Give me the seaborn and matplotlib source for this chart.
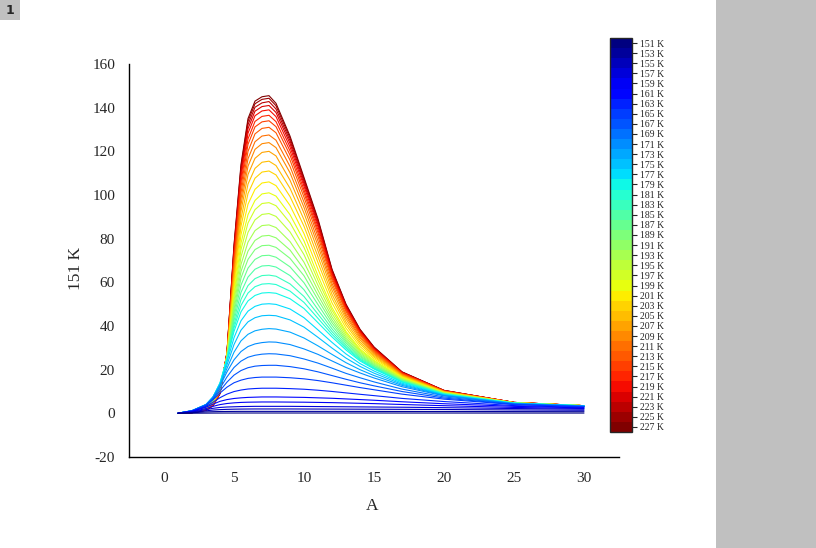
import numpy as np
import pandas as pd
import matplotlib
matplotlib.use("Agg")
import matplotlib.pyplot as plt
import seaborn as sns
from matplotlib.colors import ListedColormap, BoundaryNorm
from matplotlib.cm import ScalarMappable
from matplotlib.ticker import MultipleLocator

# ---- data ----
x_values = [1, 2, 3, 3.5, 4, 4.5, 5, 5.5, 6, 6.5, 7, 7.5, 8, 9, 10, 11, 12, 13, 14, 15, 17, 20, 25, 30]

temperatures = [227, 225, 223, 221, 219, 217, 215, 213, 211, 209, 207, 205, 203, 201, 199,
                197, 195, 193, 191, 189, 187, 185, 183, 181, 179, 177, 175, 173, 171,
                169, 167, 165, 163, 161, 159, 157, 155, 153, 151]

intensity = [
    [0, 0.3, 1.4, 3.5, 9, 28, 77, 114, 135, 143, 145, 145.5, 142, 127, 108, 89, 66, 50, 38.5, 30.4, 19, 10.5, 5.0, 3.5],
    [0, 0.3, 1.4, 3.6, 9.1, 27.9, 76.3, 112.9, 133.8, 141.8, 143.8, 144.3, 140.9, 126.1, 107.3, 88.3, 65.6, 49.7, 38.3, 30.2, 18.9, 10.5, 5.0, 3.5],
    [0, 0.32, 1.48, 3.63, 9.19, 27.8, 75.3, 111.5, 132.2, 140.2, 142.2, 142.8, 139.4, 124.9, 106.3, 87.5, 65.1, 49.3, 38, 30, 18.8, 10.4, 5.0, 3.5],
    [0, 0.33, 1.52, 3.72, 9.31, 27.7, 74.2, 110, 130.4, 138.4, 140.5, 141, 137.8, 123.6, 105.2, 86.5, 64.4, 48.9, 37.7, 29.8, 18.7, 10.4, 5.0, 3.5],
    [0, 0.35, 1.58, 3.82, 9.45, 27.5, 73, 108.2, 128.3, 136.3, 138.5, 139, 135.9, 122, 104, 85.4, 63.8, 48.4, 37.4, 29.5, 18.5, 10.3, 5.0, 3.5],
    [0, 0.36, 1.65, 3.93, 9.62, 27.4, 71.4, 106, 125.7, 133.7, 136, 136.5, 133.6, 120.2, 102.4, 84, 62.9, 47.8, 37, 29.2, 18.4, 10.3, 4.9, 3.5],
    [0, 0.38, 1.72, 4.05, 9.8, 27.2, 69.9, 103.7, 123.2, 131.2, 133.5, 134, 131.3, 118.3, 100.9, 82.7, 62, 47.2, 36.5, 28.8, 18.2, 10.2, 4.9, 3.5],
    [0, 0.4, 1.8, 4.2, 10, 27, 68, 101, 120, 128, 130.5, 131, 128.5, 116, 99, 81, 61, 46.5, 36, 28.4, 18, 10.1, 4.9, 3.5],
    [0, 0.44, 1.89, 4.35, 10.18, 26.9, 66.5, 98.3, 116.6, 124.4, 127, 127.5, 125.1, 113.1, 96.7, 78.9, 59.5, 45.4, 35.2, 27.9, 17.8, 10.0, 4.9, 3.5],
    [0, 0.47, 1.99, 4.5, 10.35, 26.8, 65, 95.6, 113.2, 120.9, 123.5, 124, 121.7, 110.2, 94.3, 76.8, 58.1, 44.4, 34.5, 27.4, 17.6, 10.0, 4.9, 3.5],
    [0, 0.51, 2.09, 4.68, 10.55, 26.6, 63.2, 92.6, 109.4, 116.8, 119.5, 120, 117.9, 106.8, 91.7, 74.4, 56.4, 43.2, 33.6, 26.9, 17.4, 9.9, 4.9, 3.5],
    [0, 0.56, 2.21, 4.87, 10.78, 26.5, 61.3, 89.1, 105, 112.2, 115, 115.5, 113.5, 103.1, 88.7, 71.7, 54.5, 41.8, 32.6, 26.3, 17.1, 9.8, 4.85, 3.5],
    [0, 0.6, 2.33, 5.07, 11, 26.3, 59.3, 85.7, 100.7, 107.7, 110.5, 111, 109.2, 99.3, 85.7, 69, 52.7, 40.5, 31.7, 25.7, 16.9, 9.7, 4.8, 3.5],
    [0, 0.65, 2.47, 5.28, 11.25, 26.2, 57.2, 81.8, 95.8, 102.6, 105.5, 106, 104.3, 95.2, 82.3, 66, 50.6, 39, 30.6, 25, 16.6, 9.6, 4.8, 3.5],
    [0, 0.7, 2.6, 5.5, 11.5, 26, 55, 78, 91, 97.5, 100.5, 101, 99.5, 91, 79, 63, 48.5, 37.5, 29.5, 24.3, 16.3, 9.5, 4.8, 3.5],
    [0, 0.74, 2.71, 5.69, 11.69, 25.8, 53.3, 75, 87.2, 93.3, 96.1, 96.5, 95.1, 87.3, 76, 60.9, 47.2, 36.7, 28.9, 23.9, 16.1, 9.4, 4.8, 3.5],
    [0, 0.78, 2.84, 5.9, 11.9, 25.6, 51.4, 71.7, 82.9, 88.6, 91.1, 91.5, 90.2, 83.1, 72.7, 58.6, 45.7, 35.7, 28.3, 23.4, 15.9, 9.3, 4.76, 3.5],
    [0, 0.82, 2.97, 6.11, 12.11, 25.4, 49.5, 68.2, 78.4, 83.7, 86, 86.3, 85.1, 78.7, 69.2, 56.3, 44.2, 34.7, 27.7, 22.9, 15.6, 9.25, 4.74, 3.5],
    [0, 0.86, 3.09, 6.31, 12.31, 25.2, 47.7, 65, 74.3, 79.2, 81.2, 81.5, 80.4, 74.8, 66, 54.1, 42.8, 33.8, 27.1, 22.4, 15.4, 9.2, 4.72, 3.5],
    [0, 0.9, 3.2, 6.5, 12.5, 25, 46, 62, 70.5, 75, 76.8, 77, 76, 71, 63, 52, 41.5, 33, 26.5, 22, 15.2, 9.1, 4.7, 3.5],
    [0.01, 0.96, 3.37, 6.71, 12.82, 25, 44.2, 58.7, 66.5, 70.5, 72.2, 72.4, 71.5, 67.1, 59.8, 49.8, 40.1, 32.2, 26, 21.6, 15, 9, 4.68, 3.48],
    [0.02, 1.03, 3.54, 6.93, 13.14, 25, 42.4, 55.4, 62.4, 66, 67.5, 67.7, 67, 63.1, 56.6, 47.5, 38.7, 31.3, 25.4, 21.3, 14.8, 8.93, 4.66, 3.46],
    [0.03, 1.09, 3.7, 7.13, 13.45, 25, 40.6, 52.2, 58.5, 61.7, 63.1, 63.3, 62.8, 59.3, 53.5, 45.4, 37.4, 30.5, 24.9, 20.9, 14.6, 8.85, 4.64, 3.44],
    [0.04, 1.14, 3.85, 7.31, 13.72, 25, 39.1, 49.4, 55.1, 58, 59.2, 59.4, 59, 56, 50.8, 43.5, 36.2, 29.8, 24.5, 20.6, 14.5, 8.78, 4.62, 3.42],
    [0.05, 1.2, 4.0, 7.5, 14, 25, 37.5, 46.5, 51.5, 54, 55.1, 55.3, 55, 52.5, 48, 41.5, 35, 29, 24, 20.3, 14.3, 8.7, 4.6, 3.4],
    [0.05, 1.2, 4.0, 7.45, 13.66, 23.6, 34.6, 42.4, 46.8, 49, 50, 50.2, 49.9, 47.8, 43.8, 38.2, 32.5, 27.2, 22.8, 19.4, 13.8, 8.5, 4.55, 3.38],
    [0.05, 1.2, 4.0, 7.41, 13.31, 22.2, 31.5, 38.1, 41.9, 43.8, 44.7, 44.9, 44.7, 42.8, 39.5, 34.8, 29.9, 25.3, 21.5, 18.4, 13.3, 8.38, 4.51, 3.35],
    [0.05, 1.2, 4.0, 7.35, 12.9, 20.6, 28, 33.2, 36.2, 37.8, 38.5, 38.8, 38.6, 37.2, 34.5, 30.9, 27, 23.2, 20, 17.3, 12.8, 8.2, 4.45, 3.33],
    [0.05, 1.2, 4.0, 7.3, 12.5, 19, 24.5, 28.3, 30.6, 31.8, 32.4, 32.7, 32.6, 31.5, 29.5, 27, 24, 21, 18.5, 16.2, 12.2, 8, 4.4, 3.3],
    [0.05, 1.17, 3.87, 6.93, 11.43, 16.7, 21, 23.9, 25.7, 26.6, 27.1, 27.3, 27.2, 26.4, 24.9, 23, 20.7, 18.3, 16.3, 14.4, 11.1, 7.5, 4.27, 3.2],
    [0.05, 1.13, 3.73, 6.57, 10.37, 14.3, 17.5, 19.6, 20.9, 21.6, 21.9, 22, 22, 21.4, 20.4, 19, 17.3, 15.6, 14, 12.6, 10, 7, 4.13, 3.1],
    [0.05, 1.1, 3.6, 6.2, 9.3, 12, 14, 15.2, 16, 16.4, 16.6, 16.6, 16.6, 16.3, 15.8, 15, 14, 12.9, 11.8, 10.8, 8.8, 6.5, 4, 3.0],
    [0.05, 1.0, 3.15, 5.08, 7.17, 8.81, 9.97, 10.67, 11.14, 11.36, 11.5, 11.5, 11.5, 11.32, 11.04, 10.58, 10.02, 9.37, 8.72, 8.11, 6.84, 5.4, 3.55, 2.72],
    [0.05, 0.9, 2.8, 4.2, 5.5, 6.3, 6.8, 7.1, 7.3, 7.4, 7.5, 7.5, 7.5, 7.4, 7.3, 7.1, 6.9, 6.6, 6.3, 6.0, 5.3, 4.4, 3.2, 2.5],
    [0.04, 0.75, 2.2, 3.2, 4.0, 4.5, 4.8, 5.0, 5.1, 5.15, 5.2, 5.2, 5.2, 5.15, 5.1, 5.0, 4.9, 4.75, 4.6, 4.45, 4.05, 3.5, 2.7, 2.2],
    [0.03, 0.6, 1.7, 2.3, 2.7, 2.9, 3.0, 3.1, 3.15, 3.2, 3.2, 3.2, 3.2, 3.2, 3.15, 3.1, 3.05, 3.0, 2.95, 2.9, 2.8, 2.6, 2.2, 1.9],
    [0.03, 0.45, 1.15, 1.5, 1.7, 1.82, 1.9, 1.95, 1.98, 2.0, 2.0, 2.0, 2.0, 2.0, 1.98, 1.96, 1.94, 1.92, 1.9, 1.88, 1.83, 1.75, 1.55, 1.4],
    [0.02, 0.3, 0.65, 0.75, 0.82, 0.86, 0.88, 0.9, 0.9, 0.9, 0.9, 0.9, 0.9, 0.9, 0.9, 0.89, 0.89, 0.88, 0.88, 0.87, 0.86, 0.84, 0.8, 0.75],
    [0, 0.05, 0.1, 0.12, 0.13, 0.14, 0.14, 0.15, 0.15, 0.15, 0.15, 0.15, 0.15, 0.15, 0.15, 0.15, 0.15, 0.15, 0.15, 0.15, 0.14, 0.14, 0.13, 0.13],
]

x_ticks = [0, 5, 10, 15, 20, 25, 30]
y_ticks = [-20, 0, 20, 40, 60, 80, 100, 120, 140, 160]
x_label = "A"
y_label = "151 K"

# ---- build long-form table ----
rows = []
for T, vals in zip(temperatures, intensity):
    for xv, yv in zip(x_values, vals):
        rows.append((xv, yv, T))
df = pd.DataFrame(rows, columns=["A", "I", "T"])

sns.set_style("white")
plt.rcParams["font.family"] = ["Liberation Serif", "DejaVu Serif"]
plt.rcParams["axes.unicode_minus"] = False

W, H = 816, 548
fig = plt.figure(figsize=(W / 100, H / 100), dpi=100)
fig.patch.set_facecolor("white")

# grey side panel and page number box
fig.add_artist(plt.Rectangle((716 / W, 0), 100 / W, 1, transform=fig.transFigure,
                             facecolor="#c0c0c0", edgecolor="none", zorder=0))
fig.add_artist(plt.Rectangle((0, 1 - 20 / H), 20 / W, 20 / H, transform=fig.transFigure,
                             facecolor="#c0c0c0", edgecolor="none", zorder=0))
fig.text(10 / W, 1 - 10 / H, "1", ha="center", va="center", fontsize=9,
         fontweight="bold", family="DejaVu Sans")

ax = fig.add_axes([129 / W, 1 - 457 / H, 490 / W, 393 / H])
ax.set_facecolor("white")

tmin, tmax = min(temperatures), max(temperatures)
cmap_jet = plt.get_cmap("jet")
palette = {T: cmap_jet((T - tmin) / (tmax - tmin)) for T in temperatures}

sns.lineplot(data=df, x="A", y="I", hue="T", hue_order=temperatures, palette=palette,
             estimator=None, errorbar=None, legend=False, linewidth=0.8, ax=ax)

ax.set_xlim(-2.5, 32.5)
ax.set_ylim(-20, 160)
ax.set_xticks(x_ticks)
ax.set_yticks(y_ticks)
ax.xaxis.set_minor_locator(MultipleLocator(2.5))
ax.yaxis.set_minor_locator(MultipleLocator(10))
for s in ["top", "right"]:
    ax.spines[s].set_visible(False)
for s in ["left", "bottom"]:
    ax.spines[s].set_linewidth(1.0)
    ax.spines[s].set_color("black")
ax.tick_params(which="major", direction="out", length=6, width=1, labelsize=11, pad=4, color="black")
ax.tick_params(which="minor", direction="out", length=3.5, width=1, color="black")
ax.tick_params(axis="x", which="major", pad=5)

ax.set_xlabel(x_label, fontsize=12.5)
ax.set_ylabel(y_label, fontsize=12.5)
ax.xaxis.set_label_coords((372 - 129) / 490, (457 - 506) / 393)
ax.yaxis.set_label_coords((76 - 129) / 490, (457 - 268) / 393)
ax.xaxis.label.set_va("center")
ax.yaxis.label.set_va("center")

# ---- discrete colour scale ----
cax = fig.add_axes([610 / W, 1 - 432 / H, 22 / W, 394 / H])
temps_sorted = sorted(temperatures)
cmap_d = ListedColormap([palette[T] for T in temps_sorted])
bounds = [T - 1 for T in temps_sorted] + [temps_sorted[-1] + 1]
norm = BoundaryNorm(bounds, cmap_d.N)
cb = fig.colorbar(ScalarMappable(norm=norm, cmap=cmap_d), cax=cax, ticks=temps_sorted)
cax.invert_yaxis()
cb.set_ticklabels([f"{T} K" for T in temps_sorted])
cb.outline.set_linewidth(1.0)
cax.tick_params(labelsize=7, length=3.5, width=0.8, pad=2)
cax.minorticks_off()

fig.savefig("out.png", dpi=100)
